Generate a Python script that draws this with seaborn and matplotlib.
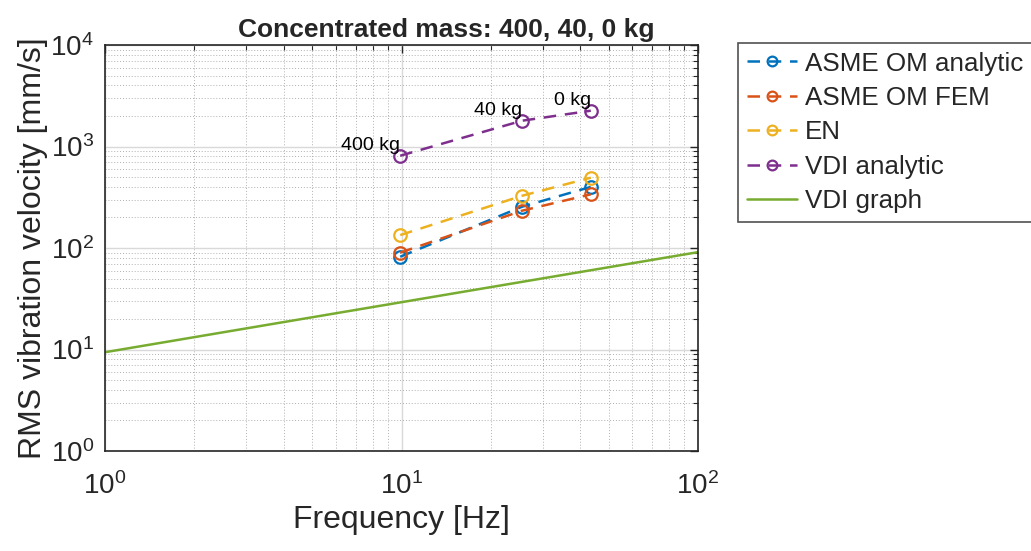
import numpy as np
import pandas as pd
import matplotlib
matplotlib.use("Agg")
import matplotlib.pyplot as plt
import seaborn as sns
from matplotlib.ticker import LogLocator, NullFormatter

# ---- data ----
freq = [9.9, 25.5, 43.5]
asme_analytic = [82, 255, 400]
asme_fem = [90, 233, 338]
en_vals = [134, 327, 493]
vdi_analytic = [811, 1795, 2253]
vdi_graph_f = [1, 100]
vdi_graph_v = [9.4, 91]
mass_labels = ["400 kg", "40 kg", "0 kg"]

series_names = ["ASME OM analytic", "ASME OM FEM", "EN", "VDI analytic"]
series_vals = [asme_analytic, asme_fem, en_vals, vdi_analytic]
colors = ["#0072BD", "#D95319", "#EDB120", "#7E2F8E"]
green = "#77AC30"

sns.set_style("white")
plt.rcParams["font.family"] = ["Liberation Sans", "DejaVu Sans"]
plt.rcParams["mathtext.fontset"] = "custom"
plt.rcParams["mathtext.rm"] = "Liberation Sans"

fig = plt.figure(figsize=(10.31, 5.51), dpi=100)
ax = fig.add_axes([105/1031, 1-451/551, (698-105)/1031, (451-45)/551])

for name, vals, c in zip(series_names, series_vals, colors):
    df = pd.DataFrame({"f": freq, "v": vals})
    sns.lineplot(data=df, x="f", y="v", ax=ax, color=c, marker="o",
                 markerfacecolor="none", markeredgecolor=c, markeredgewidth=1.6,
                 markersize=9, linestyle=(0, (5, 3.5)), linewidth=1.8,
                 label=name, sort=False)

dfg = pd.DataFrame({"f": vdi_graph_f, "v": vdi_graph_v})
sns.lineplot(data=dfg, x="f", y="v", ax=ax, color=green, linewidth=1.8,
             label="VDI graph", sort=False)

for f, v, t in zip(freq, vdi_analytic, mass_labels):
    ax.text(f, v * 1.04, t, ha="right", va="bottom", fontsize=14, color="black")

ax.set_xscale("log")
ax.set_yscale("log")
ax.set_xlim(1, 100)
ax.set_ylim(1, 1e4)

ax.xaxis.set_major_locator(LogLocator(base=10, numticks=10))
ax.yaxis.set_major_locator(LogLocator(base=10, numticks=10))
ax.xaxis.set_minor_locator(LogLocator(base=10, subs=np.arange(2, 10), numticks=20))
ax.yaxis.set_minor_locator(LogLocator(base=10, subs=np.arange(2, 10), numticks=20))
ax.xaxis.set_minor_formatter(NullFormatter())
ax.yaxis.set_minor_formatter(NullFormatter())

ax.grid(True, which="major", color="#d9d9d9", linestyle="-", linewidth=1.0)
ax.grid(True, which="minor", color="#b0b0b0", linestyle=(0, (1, 2)), linewidth=0.7)
ax.set_axisbelow(True)

ax.tick_params(which="both", direction="in", top=True, right=True,
               colors="#262626", labelsize=20)
ax.tick_params(axis="x", which="major", pad=15)
ax.tick_params(axis="y", which="major", pad=8)
ax.tick_params(which="major", length=6, width=1)
ax.tick_params(which="minor", length=3.5, width=0.8)
for s in ax.spines.values():
    s.set_color("#262626")
    s.set_linewidth(1.2)

ax.set_xlabel("Frequency [Hz]", fontsize=23, color="#262626", labelpad=4)
ax.set_ylabel("RMS vibration velocity [mm/s]", fontsize=23, color="#262626", labelpad=2)
ax.set_title("Concentrated mass: 400, 40, 0 kg", fontsize=19, fontweight="bold",
             pad=6, x=(446-105)/593)

leg = ax.legend(loc="upper left", bbox_to_anchor=(738/1031, 1-43/551),
                bbox_transform=fig.transFigure, fontsize=18.7, frameon=True,
                fancybox=False, edgecolor="#262626", handlelength=1.95,
                handletextpad=0.3, borderpad=0.33, labelspacing=0.4,
                borderaxespad=0)
leg.get_frame().set_linewidth(1.2)
for h in leg.get_lines():
    h.set_markersize(7)

fig.savefig("out.png", dpi=100)
